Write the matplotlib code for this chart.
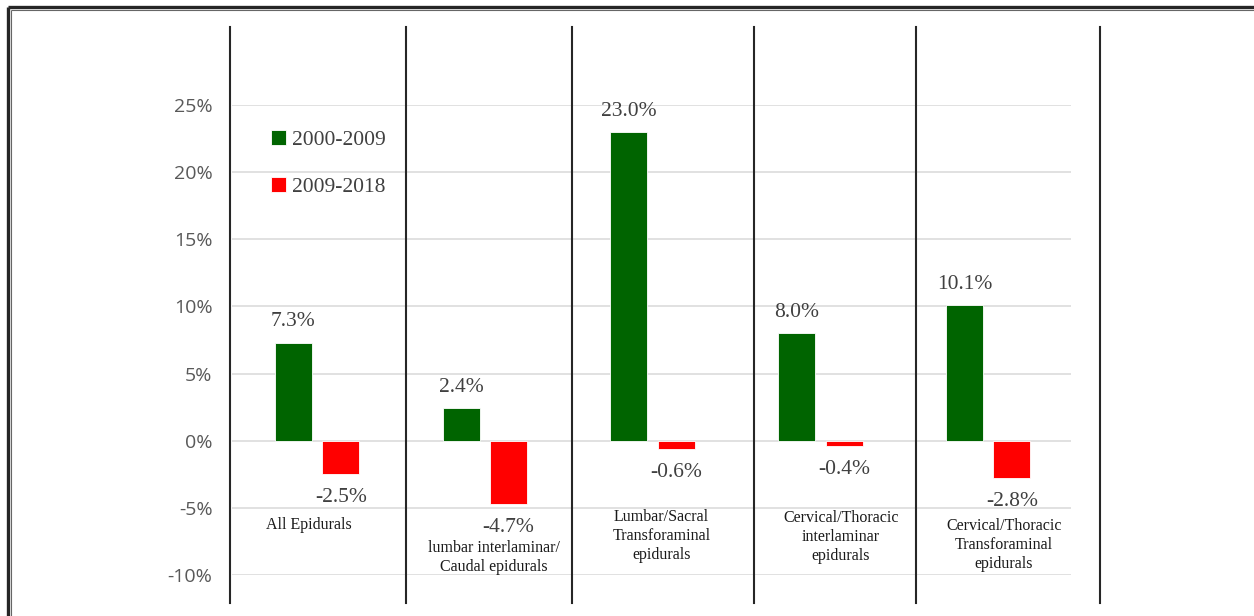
import matplotlib
matplotlib.use('Agg')
from matplotlib import pyplot as plt
from matplotlib.lines import Line2D
from matplotlib.ticker import FuncFormatter
import numpy as np

categories = ['All Epidurals',
              'lumbar interlaminar/\nCaudal epidurals',
              'Lumbar/Sacral\nTransforaminal\nepidurals',
              'Cervical/Thoracic\ninterlaminar\nepidurals',
              'Cervical/Thoracic\nTransforaminal\nepidurals']
growth_2000_2009 = [7.3, 2.4, 23.0, 8.0, 10.1]
growth_2009_2018 = [-2.5, -4.7, -0.6, -0.4, -2.8]
series_names = ['2000-2009', '2009-2018']
yticks = [-10, -5, 0, 5, 10, 15, 20, 25]

# where the category texts sit (x in category units, y in %)
cat_label_pos = [(-0.04, -6.3), (1.06, -8.7), (2.06, -7.1), (3.13, -7.2), (4.1, -7.8)]
# hand drawn separator lines, figure pixels
sep_x = [230, 406, 572, 754, 916, 1100]

W, H = 1254, 616
fig = plt.figure(figsize=(W / 100, H / 100), dpi=100)
fig.patch.set_facecolor('white')
ax = fig.add_axes([232 / W, (H - 575) / H, 839 / W, 470 / H])

x = np.arange(len(categories))
b1 = ax.bar(x - 0.135, growth_2000_2009, width=0.22, color='#006400',
            edgecolor='white', linewidth=0.6, label=series_names[0], zorder=3)
b2 = ax.bar(x + 0.148, growth_2009_2018, width=0.22, color='#ff0000',
            edgecolor='white', linewidth=0.6, label=series_names[1], zorder=3)

ax.set_xlim(-0.5, len(categories) - 0.5)
ax.set_ylim(-10, 25)
ax.set_yticks(yticks)
ax.yaxis.set_major_formatter(FuncFormatter(lambda v, p: '%d%%' % v))
ax.tick_params(axis='y', length=0, pad=14, labelsize=14, labelcolor='#595959')
for lab in ax.get_yticklabels():
    lab.set_family('Open Sans')
ax.set_xticks([])
ax.grid(axis='y', color='#d9d9d9', linewidth=1.1, zorder=0)
for s in ax.spines.values():
    s.set_visible(False)

serif = 'Liberation Serif'
for bar, v in zip(b1, growth_2000_2009):
    ax.annotate('%.1f%%' % v, (bar.get_x() + bar.get_width() / 2, v),
                xytext=(0, 15), textcoords='offset points', ha='center', va='center',
                fontsize=15.5, family=serif, color='#404040')
for bar, v in zip(b2, growth_2009_2018):
    ax.annotate('%.1f%%' % v, (bar.get_x() + bar.get_width() / 2, v),
                xytext=(0, -17), textcoords='offset points', ha='center', va='center',
                fontsize=15.5, family=serif, color='#404040')

for name, (cx, cy) in zip(categories, cat_label_pos):
    ax.text(cx, cy, name, ha='center', va='center', fontsize=11.5, family=serif,
            color='#1a1a1a', linespacing=1.25, multialignment='center')

ax.legend(handles=[b1, b2], loc='upper left', bbox_to_anchor=(0.046, 0.947),
          frameon=False, prop={'family': serif, 'size': 15.5}, labelcolor='#404040',
          handlelength=0.7, handleheight=0.7, handletextpad=0.3, labelspacing=1.25,
          borderpad=0, borderaxespad=0)

def fig_line(xs, ys, **kw):
    fig.add_artist(Line2D([px / W for px in xs], [1 - py / H for py in ys],
                          transform=fig.transFigure, **kw))

for sx in sep_x:
    fig_line([sx, sx], [27, 603], color='#262626', linewidth=1.5)

# double frame round the picture
fig_line([7.5, W], [7, 7], color='#262626', linewidth=2.4, solid_capstyle='butt')
fig_line([8, 8], [7, H], color='#262626', linewidth=2.4, solid_capstyle='butt')
fig_line([10.5, W], [10.3, 10.3], color='#666666', linewidth=0.8, solid_capstyle='butt')
fig_line([10.8, 10.8], [10.3, H], color='#666666', linewidth=0.8, solid_capstyle='butt')

fig.savefig('out.png', dpi=100, facecolor='white')
plt.close()
